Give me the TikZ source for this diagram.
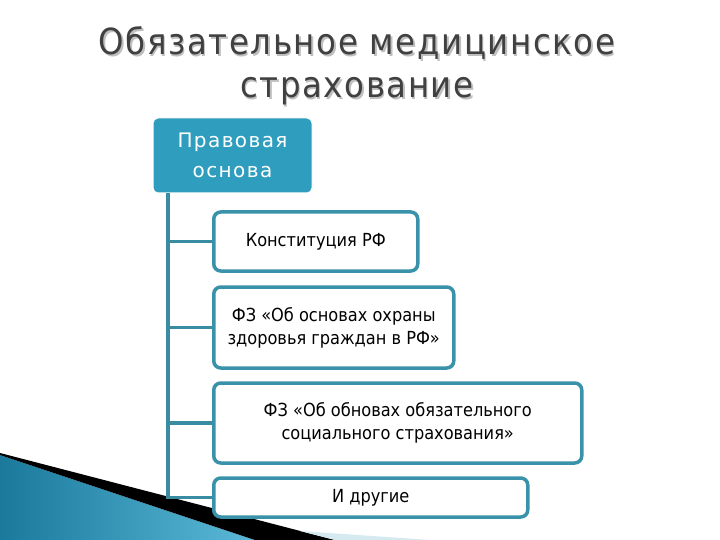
\documentclass[tikz,border=0pt]{standalone}
\usepackage{fontspec}
\setmainfont{DejaVu Sans}
\newfontfamily\condfont{DejaVu Sans Condensed}
\definecolor{hdrfill}{HTML}{2F9DBE}
\definecolor{edgec}{HTML}{3A92AA}
\definecolor{connc}{HTML}{3A8CA3}
\definecolor{titlec}{HTML}{404040}
\definecolor{decoL}{HTML}{1A7A9C}
\definecolor{decoR}{HTML}{5BB8D8}
\tikzset{
  titletext/.style={text=titlec, align=center, font=\condfont\fontsize{36}{43}\selectfont\addfontfeature{LetterSpace=4.5}},
  titleshadow/.style={text=black!25, align=center, font=\condfont\fontsize{36}{43}\selectfont\addfontfeature{LetterSpace=4.5}},
  hdrbox/.style={fill=hdrfill, draw=white, line width=1pt, rounded corners=5pt, text=white, align=center,
    minimum width=159pt, minimum height=75pt, inner sep=0pt,
    font=\fontsize{20}{30}\selectfont\addfontfeature{LetterSpace=7}},
  childbox/.style={fill=white, draw=edgec, line width=3.5pt, rounded corners=7pt, align=center,
    anchor=west, inner sep=0pt, font=\condfont\fontsize{18}{23}\selectfont},
  connline/.style={draw=connc, line width=3.5pt}
}
\begin{document}
\begin{tikzpicture}[x=1pt,y=-1pt]
\useasboundingbox (0,0) rectangle (720,540);
% bottom-left decoration
\shade[left color=decoL, right color=decoR] (0,455) -- (255,540) -- (0,540) -- cycle;
\fill[black] (0,453) -- (335,540) -- (255,540) -- (0,455) -- cycle;
\fill[black!10!decoR!25] (335,540) -- (300,531) -- (430,540) -- cycle;
% title
\node[titleshadow] at (358.5,67.5) {Обязательное медицинское\\страхование};
\node[titletext] (title) at (357,66) {Обязательное медицинское\\страхование};
% header
\node[hdrbox] (h) at (232.5,155.5) {\raisebox{2pt}{\parbox{150pt}{\centering Правовая\\основа}}};
% children
\node[childbox, minimum width=204pt, minimum height=59pt] (c1) at (212,241.5) {Конституция РФ};
\node[childbox, minimum width=240pt, minimum height=81pt] (c2) at (212,327.5) {ФЗ «Об основах охраны\\здоровья граждан в РФ»};
\node[childbox, minimum width=368pt, minimum height=80pt] (c3) at (212,423) {ФЗ «Об обновах обязательного\\социального страхования»};
\node[childbox, minimum width=314pt, minimum height=39pt] (c4) at (212,497.5) {И другие};
% connectors
\coordinate (t) at (168,193);
\draw[connline] (t) |- (c4.west);
\draw[connline] (t |- c1.west) -- (c1.west);
\draw[connline] (t |- c2.west) -- (c2.west);
\draw[connline] (t |- c3.west) -- (c3.west);
\end{tikzpicture}
\end{document}
